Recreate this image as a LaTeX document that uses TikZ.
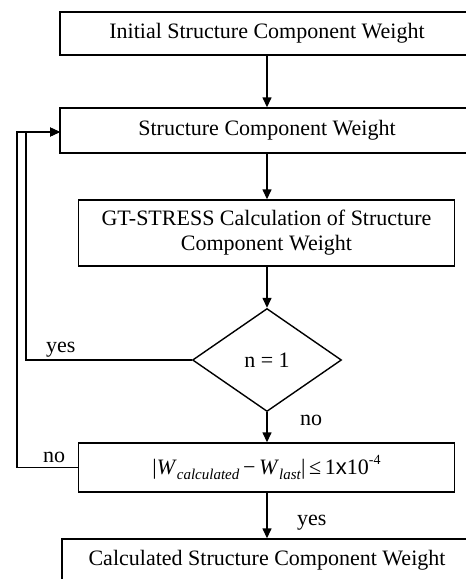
\documentclass[tikz,border=0pt]{standalone}
\usepackage{fontspec}
\setmainfont{Liberation Serif}
\newfontfamily\arialf{Liberation Sans}
\usetikzlibrary{arrows.meta,shapes.geometric}
\tikzset{
  box/.style={draw,line width=1.4pt,inner sep=0pt,align=center,font=\fontsize{22}{25}\selectfont},
  dec/.style={draw,line width=1.4pt,diamond,inner sep=0pt,aspect=1.45,minimum width=149pt,minimum height=103pt,font=\fontsize{22}{25}\selectfont},
  flow/.style={line width=1.4pt,-{Triangle[length=10pt,width=9pt]}},
  lbl/.style={anchor=base west,inner sep=0pt,font=\fontsize{22}{25}\selectfont}
}
\begin{document}
\begin{tikzpicture}[x=1pt,y=-1pt]
\useasboundingbox (0,0) rectangle (466,579);
\node[box,minimum width=414pt,minimum height=43pt] (b1) at (267,33.5) {Initial Structure Component Weight};
\node[box,minimum width=414pt,minimum height=45pt] (b2) at (267,130.5) {Structure Component Weight};
\node[box,minimum width=376pt,minimum height=66pt] (b3) at (266.5,233) {GT-STRESS Calculation of Structure\\Component Weight};
\node[dec] (d) at (267,360) {n = 1};
\node[box,minimum width=376pt,minimum height=49pt] (b4) at (266.5,467.5) {|\textit{W}\raisebox{-0.25em}{\fontsize{15}{15}\selectfont\textit{calculated}}\,−\,\textit{W}\raisebox{-0.25em}{\fontsize{15}{15}\selectfont\textit{last}}|\,≤\,1{\arialf x}10\raisebox{0.45em}{\fontsize{14}{14}\selectfont -4}};
\node[box,minimum width=410pt,minimum height=43pt] (b5) at (267,560.5) {Calculated Structure Component Weight};
\coordinate (yx) at (26,0);
\coordinate (nx) at (17,0);
\coordinate (in) at (60,132);
\draw[flow] (b1.south -| d.north) -- (b2.north -| d.north);
\draw[flow] (b2.south -| d.north) -- (b3.north -| d.north);
\draw[flow] (b3.south -| d.north) -- (d.north);
\draw[flow] (d.south) -- (b4.north -| d.south);
\draw[flow] (b4.south -| d.south) -- (b5.north -| d.south);
\draw[flow] (d.west) -| (yx |- in) -- (in);
\draw[flow] (b4.west) -| (nx |- in) -- (in);
\node[lbl] (l1) at (46,352) {yes};
\node[lbl] (l2) at (300,425) {no};
\node[lbl] (l3) at (43,462) {no};
\node[lbl] (l4) at (297,525) {yes};
\end{tikzpicture}
\end{document}
